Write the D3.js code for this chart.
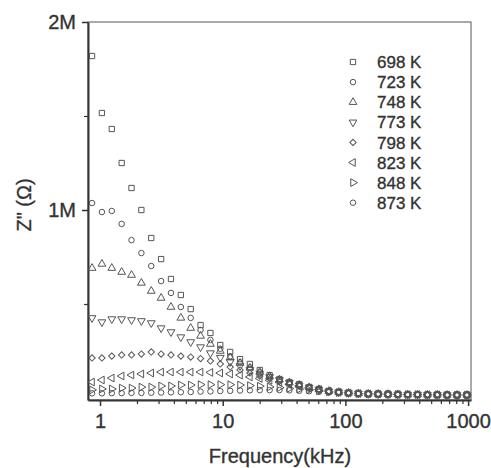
<!DOCTYPE html>
<html>
<head>
<meta charset="utf-8">
<script src="https://cdn.jsdelivr.net/npm/d3@7"></script>
<style>
  body { margin: 0; background: #fff; }
  text { font-family: Arial, "Liberation Sans", sans-serif; fill: #333; stroke: #333; stroke-width: 0.35px; }
  .axis path, .axis line { stroke: #333; }
</style>
</head>
<body>
<div id="chart"></div>
<script>
(function(){

    // frequencies (kHz) shared by every temperature
    const freqKHz = [0.861, 1.036, 1.247, 1.501, 1.806, 2.173, 2.615, 3.147, 3.787, 4.557,
        5.483, 6.598, 7.940, 9.554, 11.50, 13.84, 16.65, 20.04, 24.11, 29.01,
        34.91, 42.01, 50.55, 60.83, 73.20, 88.10, 106.0, 127.6, 153.5, 184.7,
        222.3, 267.5, 321.9, 387.3, 466.2, 561.0, 675.1, 812.4, 977.7];

    // Z'' in M ohm
    const z698 = [1.819, 1.516, 1.431, 1.250, 1.117, 1.000, 0.851, 0.739, 0.633, 0.548,
        0.473, 0.388, 0.346, 0.282, 0.245, 0.207, 0.181, 0.149, 0.122, 0.101,
        0.085, 0.074, 0.058, 0.048, 0.037, 0.032, 0.027, 0.024, 0.022, 0.021,
        0.020, 0.019, 0.018, 0.018, 0.017, 0.017, 0.016, 0.016, 0.016];
    const z723 = [1.037, 0.989, 0.995, 0.926, 0.840, 0.771, 0.702, 0.622, 0.559, 0.484,
        0.426, 0.362, 0.309, 0.262, 0.222, 0.190, 0.163, 0.136, 0.114, 0.096,
        0.081, 0.069, 0.055, 0.046, 0.036, 0.031, 0.027, 0.024, 0.022, 0.021,
        0.020, 0.019, 0.018, 0.018, 0.017, 0.017, 0.016, 0.016, 0.016];
    const z748 = [0.691, 0.713, 0.691, 0.670, 0.654, 0.612, 0.569, 0.532, 0.484, 0.426,
        0.372, 0.330, 0.287, 0.250, 0.215, 0.186, 0.160, 0.138, 0.115, 0.097,
        0.082, 0.069, 0.056, 0.046, 0.036, 0.031, 0.027, 0.024, 0.022, 0.021,
        0.020, 0.019, 0.018, 0.018, 0.017, 0.017, 0.016, 0.016, 0.016];
    const z773 = [0.426, 0.404, 0.420, 0.420, 0.415, 0.410, 0.399, 0.372, 0.351, 0.324,
        0.298, 0.271, 0.239, 0.215, 0.192, 0.170, 0.150, 0.130, 0.112, 0.096,
        0.081, 0.068, 0.056, 0.045, 0.036, 0.031, 0.027, 0.024, 0.022, 0.021,
        0.020, 0.019, 0.018, 0.018, 0.017, 0.017, 0.016, 0.016, 0.016];
    const z798 = [0.213, 0.213, 0.223, 0.229, 0.229, 0.234, 0.245, 0.234, 0.229, 0.223,
        0.218, 0.210, 0.197, 0.181, 0.165, 0.149, 0.133, 0.117, 0.103, 0.089,
        0.077, 0.065, 0.054, 0.044, 0.036, 0.030, 0.027, 0.024, 0.022, 0.021,
        0.020, 0.019, 0.018, 0.018, 0.017, 0.017, 0.016, 0.016, 0.016];
    const z823 = [0.085, 0.096, 0.106, 0.117, 0.122, 0.128, 0.133, 0.138, 0.138, 0.138,
        0.138, 0.138, 0.136, 0.133, 0.128, 0.122, 0.112, 0.104, 0.094, 0.084,
        0.073, 0.064, 0.054, 0.045, 0.037, 0.031, 0.027, 0.024, 0.022, 0.021,
        0.020, 0.019, 0.018, 0.018, 0.017, 0.017, 0.016, 0.016, 0.016];
    const z848 = [0.043, 0.048, 0.048, 0.053, 0.053, 0.058, 0.058, 0.064, 0.064, 0.069,
        0.069, 0.071, 0.071, 0.071, 0.071, 0.069, 0.066, 0.063, 0.059, 0.055,
        0.051, 0.047, 0.043, 0.038, 0.033, 0.029, 0.026, 0.023, 0.022, 0.021,
        0.020, 0.019, 0.018, 0.018, 0.017, 0.017, 0.016, 0.016, 0.016];
    const z873 = [0.025, 0.025, 0.026, 0.026, 0.027, 0.027, 0.028, 0.029, 0.030, 0.031,
        0.032, 0.034, 0.035, 0.037, 0.038, 0.040, 0.041, 0.042, 0.042, 0.042,
        0.041, 0.039, 0.036, 0.033, 0.030, 0.027, 0.025, 0.023, 0.021, 0.020,
        0.019, 0.018, 0.018, 0.017, 0.017, 0.016, 0.016, 0.015, 0.015];

    const temps = ["698 K", "723 K", "748 K", "773 K", "798 K", "823 K", "848 K", "873 K"];
    const values = [z698, z723, z748, z773, z798, z823, z848, z873];

    const xMajorTicks = [1, 10, 100, 1000];
    const xMinorTicks = [2, 3, 4, 5, 6, 7, 8, 9, 20, 30, 40, 50, 60, 70, 80, 90,
        200, 300, 400, 500, 600, 700, 800, 900];
    const yMajorTicks = [1, 2];
    const yMinorTicks = [0.5, 1.5];

    // marker shape per series: symbol + rotation
    const shapes = [
        { sym: d3.symbolSquare, size: 28, rot: 0 },
        { sym: d3.symbolCircle, size: 24, rot: 0 },
        { sym: d3.symbolTriangle, size: 26, rot: 0 },
        { sym: d3.symbolTriangle, size: 26, rot: 180 },
        { sym: d3.symbolSquare, size: 20, rot: 45 },
        { sym: d3.symbolTriangle, size: 26, rot: -90 },
        { sym: d3.symbolTriangle, size: 26, rot: 90 },
        { sym: d3.symbolCircle, size: 24, rot: 0 }
    ];

    const W = 491, H = 468;
    const plot = { left: 88, right: 471, top: 22, bottom: 400 };

    const svg = d3.select("#chart").append("svg")
        .attr("width", W)
        .attr("height", H);

    svg.append("rect").attr("width", W).attr("height", H).attr("fill", "#fff");

    const x = d3.scaleLog()
        .domain([0.798, 1056])
        .range([plot.left, plot.right]);

    const y = d3.scaleLinear()
        .domain([-0.0106, 2])
        .range([plot.bottom, plot.top]);

    // frame (top + right)
    svg.append("rect")
        .attr("x", plot.left)
        .attr("y", plot.top)
        .attr("width", plot.right - plot.left)
        .attr("height", plot.bottom - plot.top)
        .attr("fill", "none")
        .attr("stroke", "#555")
        .attr("stroke-width", 1);

    // x axis
    const gx = svg.append("g")
        .attr("class", "axis")
        .attr("transform", `translate(0,${plot.bottom})`)
        .call(d3.axisBottom(x)
            .tickValues(xMajorTicks)
            .tickFormat(d3.format("d"))
            .tickSize(6)
            .tickSizeOuter(0)
            .tickPadding(8));
    gx.select(".domain").attr("stroke-width", 2);
    gx.selectAll(".tick line").attr("stroke-width", 1.5);
    gx.selectAll("text").style("font-size", "20px").attr("fill", "#333");

    svg.append("g")
        .attr("class", "axis")
        .attr("transform", `translate(0,${plot.bottom})`)
        .call(d3.axisBottom(x)
            .tickValues(xMinorTicks)
            .tickFormat("")
            .tickSize(4)
            .tickSizeOuter(0))
        .call(g => g.select(".domain").remove())
        .selectAll(".tick line").attr("stroke-width", 1.2);

    // y axis
    const gy = svg.append("g")
        .attr("class", "axis")
        .attr("transform", `translate(${plot.left},0)`)
        .call(d3.axisLeft(y)
            .tickValues(yMajorTicks)
            .tickFormat(d => d + "M")
            .tickSize(6)
            .tickSizeOuter(0)
            .tickPadding(6));
    gy.select(".domain").attr("stroke-width", 2);
    gy.selectAll(".tick line").attr("stroke-width", 1.5);
    gy.selectAll("text").style("font-size", "20px").attr("fill", "#333");

    svg.append("g")
        .attr("class", "axis")
        .attr("transform", `translate(${plot.left},0)`)
        .call(d3.axisLeft(y)
            .tickValues(yMinorTicks)
            .tickFormat("")
            .tickSize(4)
            .tickSizeOuter(0))
        .call(g => g.select(".domain").remove())
        .selectAll(".tick line").attr("stroke-width", 1.2);

    // axis titles
    svg.append("text")
        .attr("x", 280)
        .attr("y", 463)
        .attr("text-anchor", "middle")
        .style("font-size", "20px")
        .text("Frequency(kHz)");

    svg.append("text")
        .attr("transform", "translate(31,205) rotate(-90)")
        .attr("text-anchor", "middle")
        .style("font-size", "20px")
        .text("Z\" (\u03A9)");

    // data markers
    const symbolPath = s => d3.symbol().type(s.sym).size(s.size)();

    values.forEach((vals, si) => {
        const s = shapes[si];
        svg.append("g")
            .selectAll("path")
            .data(vals.map((v, i) => ({ f: freqKHz[i], z: v })))
            .join("path")
            .attr("d", symbolPath(s))
            .attr("transform", d => `translate(${x(d.f)},${y(d.z)}) rotate(${s.rot})`)
            .attr("fill", "none")
            .attr("stroke", "#555")
            .attr("stroke-width", 1);
    });

    // legend
    const legend = svg.append("g").attr("transform", "translate(353,62)");
    temps.forEach((t, i) => {
        const s = shapes[i];
        const row = legend.append("g").attr("transform", `translate(0,${i * 20.1})`);
        row.append("path")
            .attr("d", symbolPath(s))
            .attr("transform", `rotate(${s.rot})`)
            .attr("fill", "none")
            .attr("stroke", "#555")
            .attr("stroke-width", 1);
        row.append("text")
            .attr("x", 24)
            .attr("dy", "0.36em")
            .style("font-size", "17px")
            .text(t);
    });

})();
</script>
</body>
</html>
